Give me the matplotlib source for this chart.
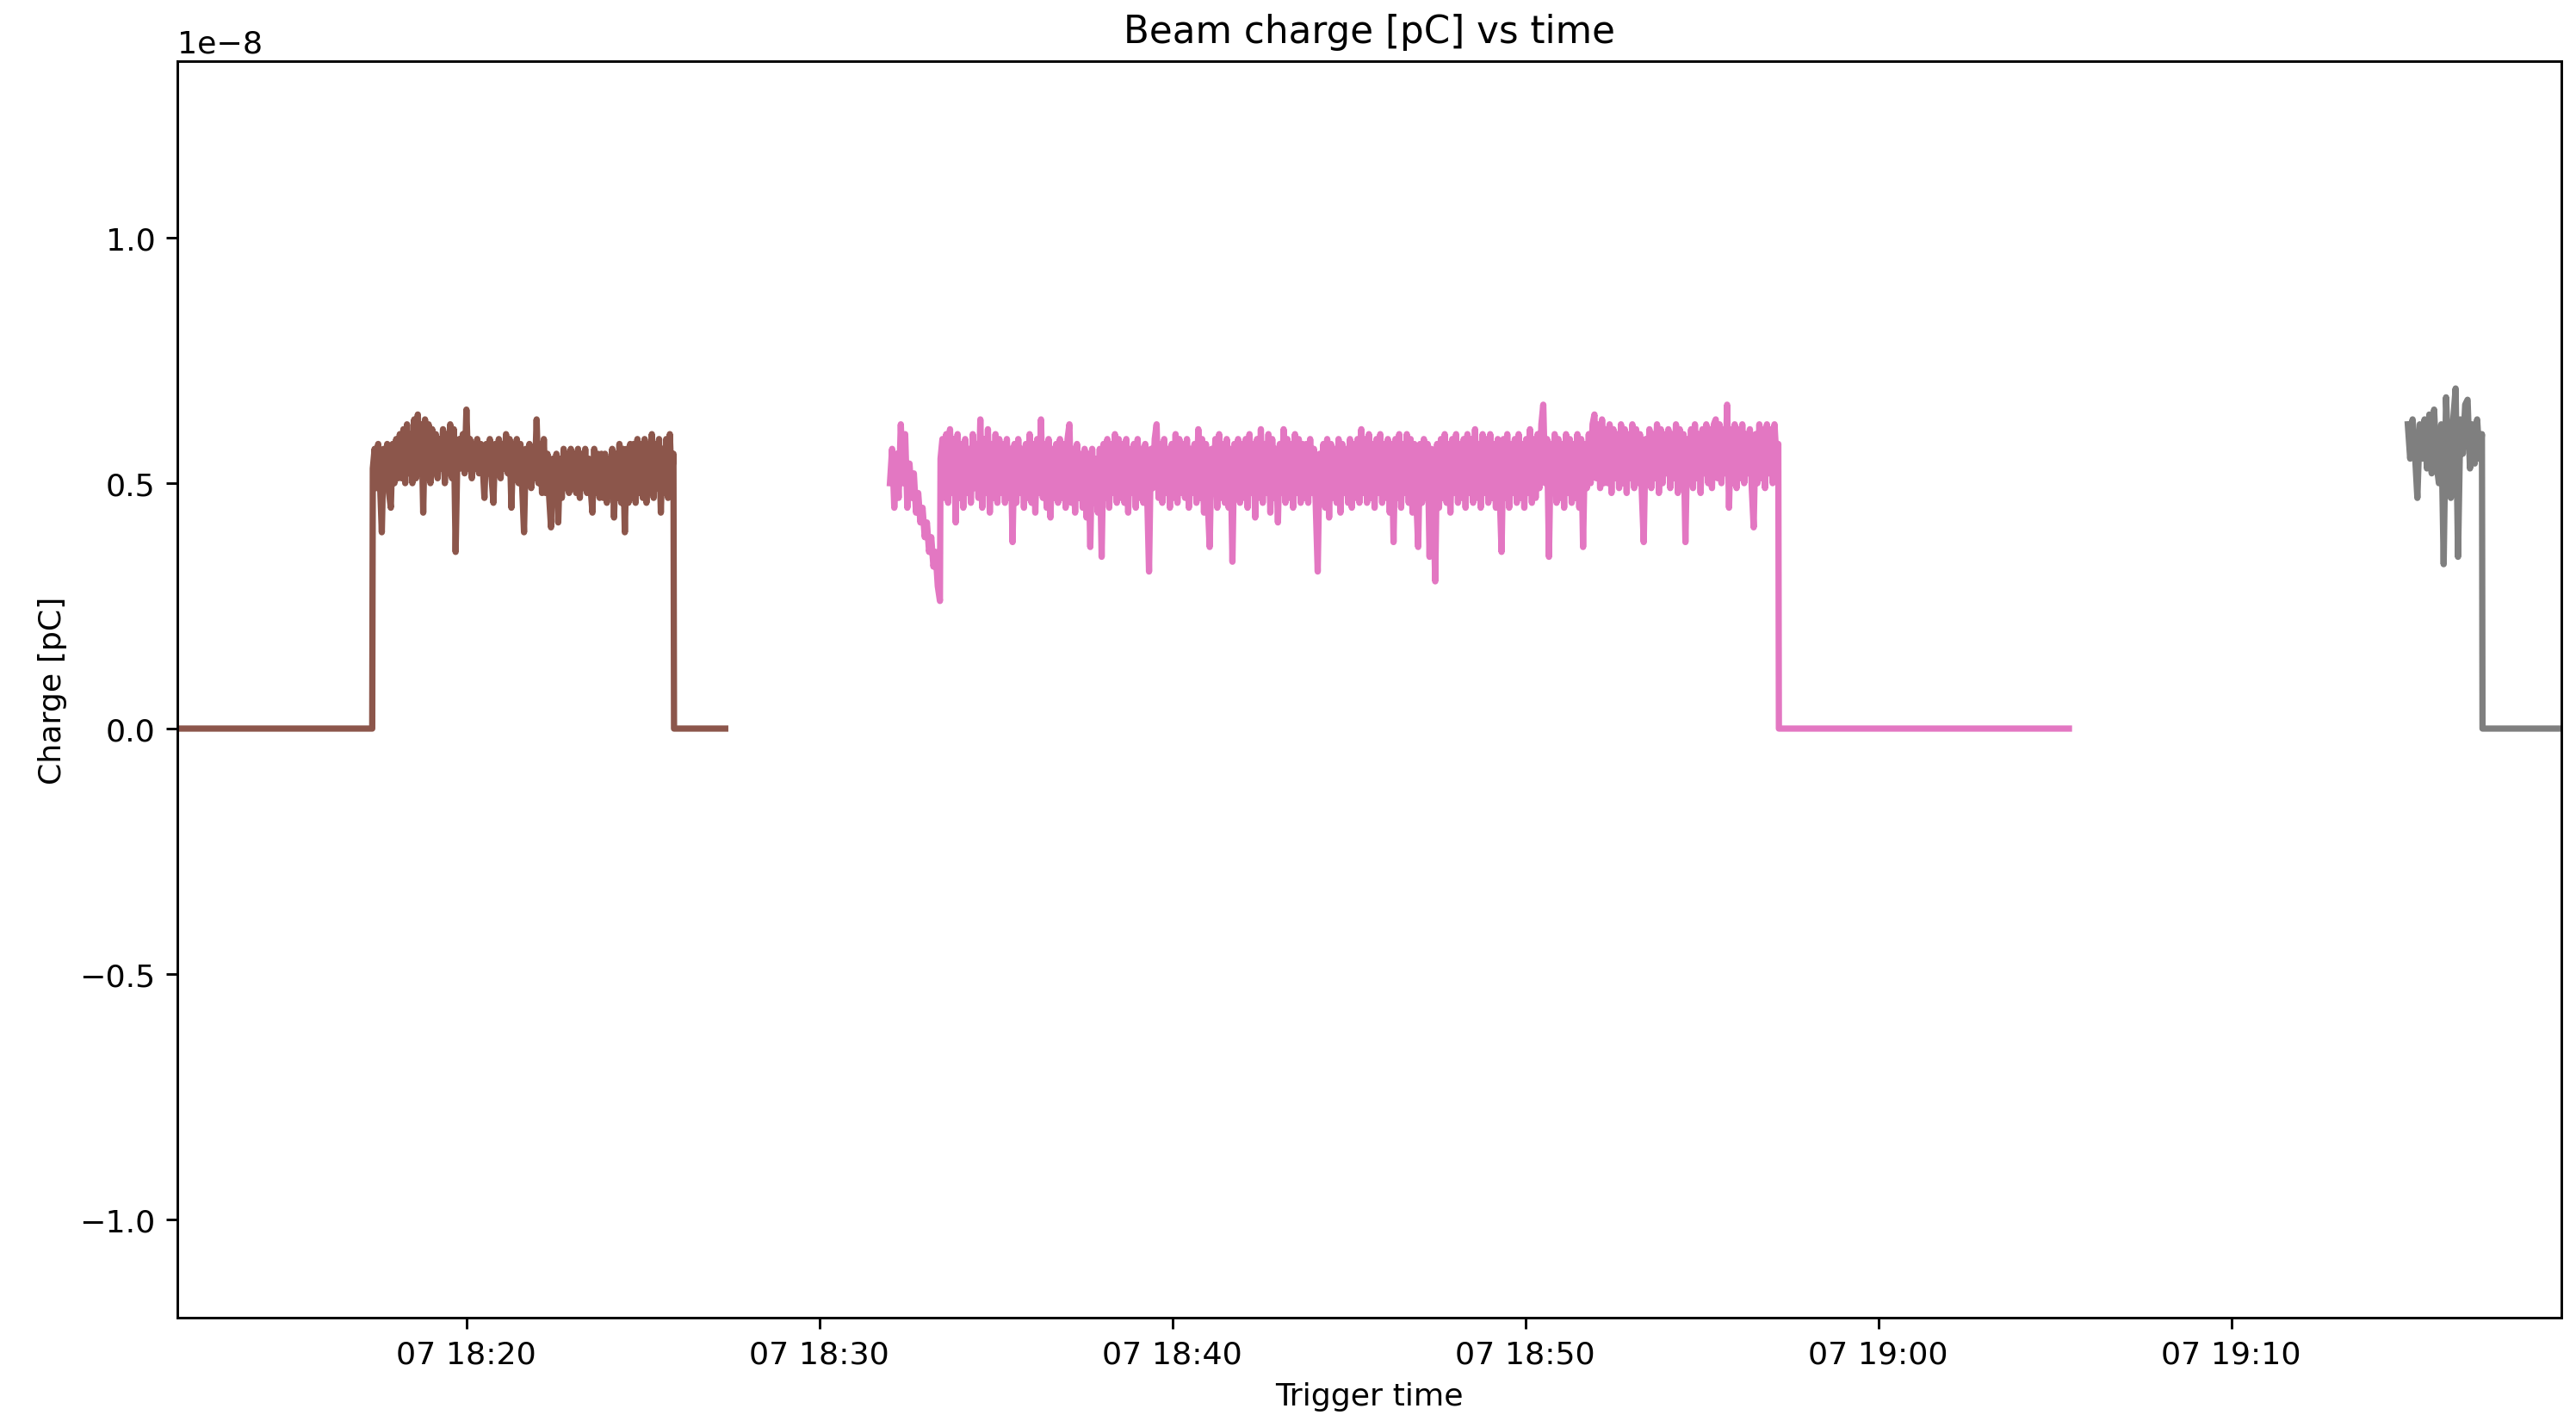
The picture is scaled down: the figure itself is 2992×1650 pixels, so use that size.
import matplotlib
matplotlib.use('Agg')
import matplotlib.pyplot as plt
import matplotlib.dates as mdates
import pandas as pd

DAY = '2023-06-07 '

# run 1 (brown): flat zero, beam on, back to zero
brown_zero_before = ('18:11:00', '18:17:20')
brown_on = ('18:17:21', '18:25:52')
brown_zero_after = ('18:25:53', '18:27:20')
brown_values = [
    0.53, 0.57, 0.49, 0.58, 0.50, 0.40, 0.57, 0.49, 0.58, 0.48, 0.45, 0.58, 0.50, 0.59, 0.51, 0.60,
    0.51, 0.61, 0.50, 0.62, 0.52, 0.60, 0.50, 0.63, 0.51, 0.64, 0.52, 0.62, 0.44, 0.63, 0.51, 0.62,
    0.50, 0.61, 0.52, 0.60, 0.51, 0.59, 0.53, 0.61, 0.50, 0.60, 0.52, 0.62, 0.51, 0.61, 0.36, 0.56,
    0.59, 0.53, 0.60, 0.52, 0.65, 0.53, 0.59, 0.51, 0.58, 0.53, 0.59, 0.52, 0.58, 0.54, 0.47, 0.58,
    0.52, 0.59, 0.51, 0.46, 0.58, 0.52, 0.59, 0.51, 0.58, 0.53, 0.60, 0.52, 0.59, 0.45, 0.58, 0.51,
    0.59, 0.50, 0.58, 0.49, 0.40, 0.57, 0.50, 0.58, 0.49, 0.57, 0.51, 0.63, 0.50, 0.58, 0.48, 0.59,
    0.48, 0.56, 0.47, 0.41, 0.55, 0.48, 0.56, 0.42, 0.55, 0.47, 0.57, 0.49, 0.56, 0.48, 0.57, 0.49,
    0.56, 0.48, 0.57, 0.47, 0.56, 0.49, 0.57, 0.48, 0.55, 0.49, 0.44, 0.57, 0.48, 0.56, 0.47, 0.56,
    0.47, 0.56, 0.46, 0.55, 0.48, 0.57, 0.43, 0.56, 0.47, 0.58, 0.46, 0.57, 0.40, 0.57, 0.46, 0.58,
    0.47, 0.58, 0.46, 0.59, 0.48, 0.58, 0.47, 0.59, 0.46, 0.58, 0.48, 0.60, 0.47, 0.58, 0.49, 0.59,
    0.44, 0.57, 0.48, 0.59, 0.47, 0.60, 0.50, 0.56,
]

# run 2 (pink): short ramp down at start, then long beam-on period
pink_ramp = ('18:32:00', '18:33:25')
pink_ramp_values = [
    0.50, 0.57, 0.45, 0.56, 0.47, 0.62, 0.50, 0.60, 0.45, 0.54, 0.47, 0.52,
    0.44, 0.48, 0.42, 0.45, 0.39, 0.42, 0.36, 0.39, 0.33, 0.36, 0.29, 0.26,
]
pink_on = ('18:33:26', '18:57:10')
pink_values = [
    0.55, 0.59, 0.47, 0.60, 0.46, 0.61, 0.48, 0.59, 0.42, 0.60, 0.47, 0.58, 0.45, 0.59, 0.48, 0.57,
    0.46, 0.60, 0.49, 0.58, 0.47, 0.63, 0.45, 0.59, 0.48, 0.61, 0.44, 0.58, 0.47, 0.60, 0.46, 0.59,
    0.48, 0.58, 0.46, 0.59, 0.47, 0.57, 0.38, 0.58, 0.46, 0.59, 0.48, 0.57, 0.45, 0.58, 0.47, 0.60,
    0.46, 0.58, 0.44, 0.59, 0.48, 0.63, 0.47, 0.58, 0.45, 0.59, 0.43, 0.57, 0.47, 0.58, 0.46, 0.59,
    0.47, 0.58, 0.45, 0.59, 0.62, 0.46, 0.57, 0.44, 0.58, 0.47, 0.56, 0.45, 0.57, 0.43, 0.56, 0.37,
    0.57, 0.46, 0.55, 0.44, 0.57, 0.35, 0.58, 0.47, 0.59, 0.45, 0.58, 0.48, 0.60, 0.46, 0.59, 0.47,
    0.58, 0.46, 0.59, 0.44, 0.57, 0.48, 0.58, 0.45, 0.59, 0.47, 0.57, 0.46, 0.58, 0.48, 0.32, 0.57,
    0.49, 0.59, 0.62, 0.47, 0.58, 0.46, 0.59, 0.48, 0.57, 0.45, 0.58, 0.47, 0.60, 0.46, 0.59, 0.48,
    0.58, 0.47, 0.59, 0.45, 0.57, 0.48, 0.58, 0.46, 0.61, 0.47, 0.59, 0.44, 0.58, 0.46, 0.37, 0.57,
    0.48, 0.59, 0.45, 0.60, 0.47, 0.58, 0.46, 0.59, 0.45, 0.57, 0.34, 0.58, 0.47, 0.59, 0.46, 0.58,
    0.47, 0.59, 0.45, 0.60, 0.48, 0.58, 0.43, 0.59, 0.47, 0.61, 0.46, 0.58, 0.48, 0.60, 0.44, 0.59,
    0.47, 0.57, 0.42, 0.58, 0.48, 0.61, 0.46, 0.59, 0.47, 0.58, 0.45, 0.60, 0.48, 0.59, 0.46, 0.58,
    0.47, 0.58, 0.46, 0.59, 0.48, 0.57, 0.45, 0.32, 0.56, 0.47, 0.58, 0.45, 0.59, 0.43, 0.58, 0.47,
    0.57, 0.46, 0.59, 0.44, 0.58, 0.48, 0.57, 0.46, 0.59, 0.45, 0.58, 0.47, 0.59, 0.46, 0.61, 0.48,
    0.59, 0.46, 0.60, 0.47, 0.58, 0.45, 0.59, 0.48, 0.60, 0.46, 0.58, 0.47, 0.59, 0.44, 0.58, 0.38,
    0.59, 0.47, 0.60, 0.45, 0.58, 0.48, 0.60, 0.46, 0.59, 0.44, 0.58, 0.47, 0.37, 0.58, 0.46, 0.59,
    0.47, 0.58, 0.35, 0.57, 0.46, 0.30, 0.58, 0.45, 0.59, 0.47, 0.60, 0.46, 0.58, 0.44, 0.59, 0.48,
    0.60, 0.46, 0.58, 0.47, 0.59, 0.45, 0.60, 0.48, 0.59, 0.46, 0.61, 0.47, 0.58, 0.45, 0.60, 0.48,
    0.59, 0.46, 0.60, 0.47, 0.58, 0.45, 0.59, 0.48, 0.36, 0.59, 0.47, 0.60, 0.45, 0.58, 0.48, 0.59,
    0.46, 0.60, 0.47, 0.58, 0.45, 0.59, 0.48, 0.61, 0.46, 0.59, 0.47, 0.60, 0.49, 0.62, 0.66, 0.50,
    0.59, 0.35, 0.58, 0.48, 0.60, 0.46, 0.59, 0.47, 0.58, 0.45, 0.60, 0.48, 0.59, 0.46, 0.58, 0.47,
    0.60, 0.45, 0.59, 0.37, 0.58, 0.49, 0.60, 0.50, 0.62, 0.64, 0.51, 0.62, 0.49, 0.63, 0.50, 0.61,
    0.50, 0.62, 0.48, 0.61, 0.51, 0.60, 0.49, 0.62, 0.50, 0.61, 0.48, 0.60, 0.51, 0.62, 0.49, 0.61,
    0.50, 0.60, 0.48, 0.38, 0.59, 0.50, 0.61, 0.49, 0.60, 0.51, 0.62, 0.48, 0.61, 0.50, 0.60, 0.52,
    0.61, 0.49, 0.60, 0.51, 0.62, 0.48, 0.61, 0.50, 0.60, 0.38, 0.59, 0.50, 0.61, 0.49, 0.62, 0.51,
    0.60, 0.48, 0.61, 0.52, 0.62, 0.50, 0.61, 0.49, 0.62, 0.63, 0.51, 0.62, 0.50, 0.61, 0.52, 0.66,
    0.45, 0.61, 0.50, 0.62, 0.49, 0.61, 0.51, 0.62, 0.50, 0.60, 0.52, 0.61, 0.49, 0.41, 0.60, 0.50,
    0.62, 0.51, 0.61, 0.49, 0.62, 0.52, 0.61, 0.50, 0.62, 0.55, 0.58,
]
pink_zero_after = ('18:57:11', '19:05:24')

# run 3 (gray): short beam-on, then zero
gray_on = ('19:15:00', '19:17:06')
gray_values = [
    0.62, 0.55, 0.63, 0.56, 0.47, 0.62, 0.55, 0.63, 0.53, 0.64, 0.52, 0.65,
    0.54, 0.50, 0.62, 0.335, 0.675, 0.55, 0.47, 0.63, 0.693, 0.35, 0.63, 0.56,
    0.66, 0.67, 0.53, 0.62, 0.54, 0.63, 0.55, 0.60,
]
gray_zero_after = ('19:17:07', '19:21:00')

SCALE = 1e-8
X_RANGE = ('18:11:49', '19:19:21')
Y_RANGE = (-1.2e-8, 1.36e-8)


def ts(hms):
    return pd.Timestamp(DAY + hms)


def on_segment(span, values):
    times = pd.date_range(ts(span[0]), ts(span[1]), periods=len(values))
    return list(times), [v * SCALE for v in values]


def zero_segment(span):
    return [ts(span[0]), ts(span[1])], [0.0, 0.0]


def build(parts):
    t, y = [], []
    for pt, py in parts:
        t += pt
        y += py
    return t, y


fig, ax = plt.subplots(figsize=(11.42, 6.3015), dpi=262)
fig.subplots_adjust(left=0.0689, right=0.9943, top=0.9564, bottom=0.0728)

t, y = build([zero_segment(brown_zero_before), on_segment(brown_on, brown_values),
              zero_segment(brown_zero_after)])
ax.plot(t, y, color='tab:brown', lw=2)

t, y = build([on_segment(pink_ramp, pink_ramp_values), on_segment(pink_on, pink_values),
              zero_segment(pink_zero_after)])
ax.plot(t, y, color='tab:pink', lw=2)

t, y = build([on_segment(gray_on, gray_values), zero_segment(gray_zero_after)])
ax.plot(t, y, color='tab:gray', lw=2)

ax.set_xlim(ts(X_RANGE[0]), ts(X_RANGE[1]))
ax.set_ylim(*Y_RANGE)
ax.xaxis.set_major_locator(mdates.MinuteLocator(byminute=range(0, 60, 10)))
ax.xaxis.set_major_formatter(mdates.DateFormatter('%d %H:%M'))
ax.set_title('Beam charge [pC] vs time')
ax.set_xlabel('Trigger time')
ax.set_ylabel('Charge [pC]')

fig.savefig('out.png', dpi=262)
